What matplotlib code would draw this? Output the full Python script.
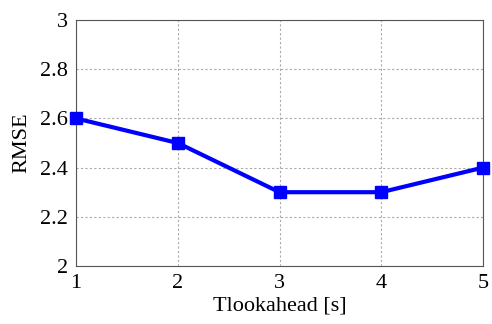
import matplotlib
matplotlib.use("Agg")
import matplotlib.pyplot as plt

x_vals = [1, 2, 3, 4, 5]
rmse = [2.6, 2.5, 2.3, 2.3, 2.4]
yticks = [2, 2.2, 2.4, 2.6, 2.8, 3]
ytick_labels = ["2", "2.2", "2.4", "2.6", "2.8", "3"]

plt.rcParams['font.family'] = ['Liberation Serif', 'DejaVu Serif']
fig = plt.figure(figsize=(4.92, 3.24), dpi=100)
ax = fig.add_axes([76/492, 1-266/324, (483-76)/492, (266-20)/324])
ax.plot(x_vals, rmse, color='#0000ff', lw=3, marker='s', ms=8, clip_on=False, zorder=3)
ax.set_xlim(1, 5)
ax.set_ylim(2, 3)
ax.set_xticks(x_vals)
ax.set_yticks(yticks)
ax.set_yticklabels(ytick_labels)
ax.grid(True, linestyle=(0, (2, 2)), color='#aaaaaa', lw=0.8)
ax.tick_params(direction='in', labelsize=16, length=0, pad=6)
for s in ax.spines.values():
    s.set_color('#555555')
    s.set_linewidth(0.8)
ax.set_xlabel('Tlookahead [s]', fontsize=16, labelpad=2)
ax.set_ylabel('RMSE', fontsize=16, labelpad=6)
fig.savefig('out.png', dpi=100)
